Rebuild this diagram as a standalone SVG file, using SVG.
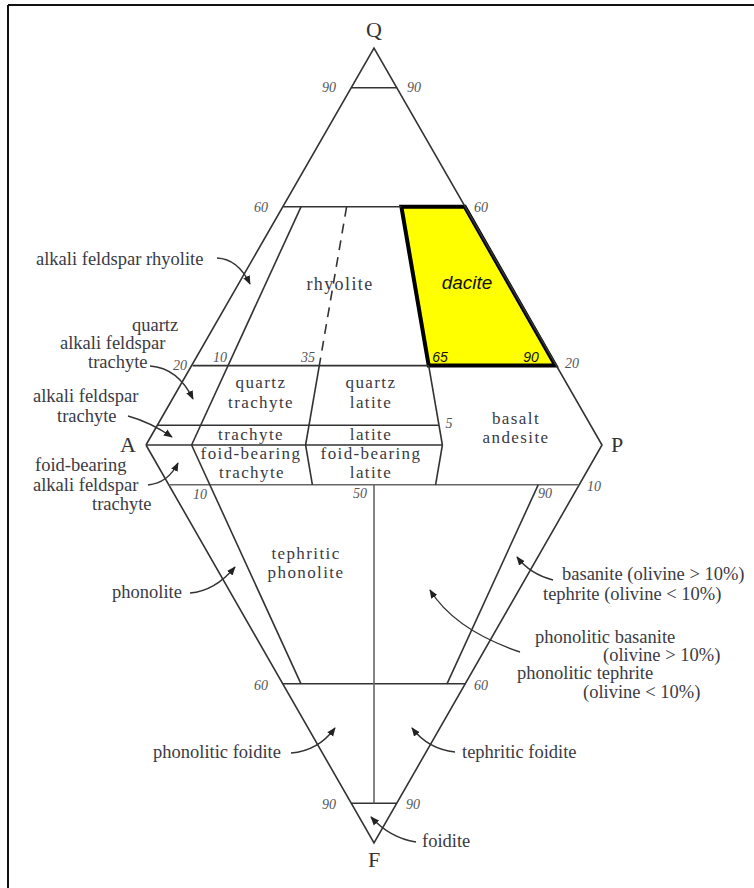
<svg xmlns="http://www.w3.org/2000/svg" width="754" height="888" viewBox="0 0 754 888">
<defs>
<style>
.lbl{font-family:"Liberation Serif","Times New Roman",serif;font-size:18.5px;fill:#3a3a44}
.in{font-size:17px;letter-spacing:1.4px;text-anchor:middle}
.num{font-family:"Liberation Serif","Times New Roman",serif;font-style:italic;font-size:14px;fill:#555;text-anchor:middle}
.sn{font-family:"Liberation Sans",Arial,sans-serif;font-style:italic;fill:#111;text-anchor:middle}
.vx{font-family:"Liberation Serif","Times New Roman",serif;font-size:22px;fill:#333;text-anchor:middle}
.ln{stroke:#333;stroke-width:1.6;fill:none}
.lg{stroke:#666;stroke-width:1.6;fill:none}
.arr{stroke:#333;stroke-width:1.4;fill:none;marker-end:url(#ah)}
</style>
<marker id="ah" viewBox="0 0 10 10" refX="9" refY="5" markerWidth="9" markerHeight="9" markerUnits="userSpaceOnUse" orient="auto">
<path d="M0,1 L10,5 L0,9 z" fill="#222"/>
</marker>
</defs>
<rect width="754" height="888" fill="#fff"/>
<g id="frame">
<line x1="8" y1="5" x2="8" y2="888" stroke="#111" stroke-width="2"/>
<line x1="8" y1="5" x2="754" y2="5" stroke="#111" stroke-width="2"/>
</g>
<g id="dacite-field">
<polygon points="401.4,206.8 464.8,206.8 555.4,365.6 428.7,365.6" fill="#ffff00" stroke="#000" stroke-width="4" stroke-linejoin="miter"/>
</g>
<g id="connectors">
<polyline class="ln" points="146,445 374,48 602,445 374,843 146,445"/>
<line class="ln" x1="351.2" y1="87.7" x2="396.8" y2="87.7"/>
<line class="ln" x1="283.2" y1="206.8" x2="401.4" y2="206.8"/>
<line class="ln" x1="192.6" y1="365.6" x2="428.7" y2="365.6"/>
<line class="ln" x1="157.4" y1="425.2" x2="439" y2="425.2"/>
<line class="ln" x1="146" y1="445" x2="442.4" y2="445"/>
<line class="lg" x1="168.8" y1="484.8" x2="579.2" y2="484.8"/>
<line class="ln" x1="282.8" y1="683.8" x2="465.2" y2="683.8"/>
<line class="ln" x1="351.2" y1="803.2" x2="396.8" y2="803.2"/>
<line class="ln" x1="301" y1="206.8" x2="191.6" y2="445"/>
<line class="ln" x1="346.6" y1="206.8" x2="319.3" y2="365.6" stroke-dasharray="10,7"/>
<line class="ln" x1="319.3" y1="365.6" x2="305.6" y2="445"/>
<line class="ln" x1="428.7" y1="365.6" x2="442.4" y2="445" stroke-width="1.2"/>
<line class="ln" x1="191.6" y1="445" x2="301" y2="683.8"/>
<line class="ln" x1="305.6" y1="445" x2="312.4" y2="484.8"/>
<line class="ln" x1="442.4" y1="445" x2="435.6" y2="484.8"/>
<line class="ln" x1="538.2" y1="484.8" x2="447" y2="683.8"/>
<line class="lg" x1="374" y1="484.8" x2="374" y2="803.2"/>
<path class="arr" d="M217,258 Q238,259 250,284"/>
<path class="arr" d="M150,366 Q178,368 193,399"/>
<path class="arr" d="M128,416 Q150,422 172,437"/>
<path class="arr" d="M148,485 Q168,483 178,463"/>
<path class="arr" d="M190,593 Q215,591 235,567"/>
<path class="arr" d="M553,580 Q530,574 517,557"/>
<path class="arr" d="M520,652 Q455,630 430,590"/>
<path class="arr" d="M291,753 Q318,751 335,728"/>
<path class="arr" d="M455,752 Q428,749 412,728"/>
<path class="arr" d="M416,842 Q390,838 371,817"/>
</g>
<g id="vertices">
<text class="vx" x="374" y="37">Q</text>
<text class="vx" x="128" y="452">A</text>
<text class="vx" x="617" y="452">P</text>
<text class="vx" x="374" y="867">F</text>
</g>
<g id="scale-numbers">
<text class="num" x="329" y="92">90</text>
<text class="num" x="414" y="92">90</text>
<text class="num" x="261" y="212">60</text>
<text class="num" x="481" y="212">60</text>
<text class="num" x="180" y="370">20</text>
<text class="num" x="220" y="362">10</text>
<text class="num" x="308" y="362">35</text>
<text class="sn" x="440" y="362" font-size="14">65</text>
<text class="sn" x="531" y="362" font-size="14">90</text>
<text class="num" x="572" y="368">20</text>
<text class="num" x="449" y="428">5</text>
<text class="num" x="200" y="499">10</text>
<text class="num" x="360" y="498">50</text>
<text class="num" x="545" y="498">90</text>
<text class="num" x="594" y="491">10</text>
<text class="num" x="261" y="690">60</text>
<text class="num" x="481" y="690">60</text>
<text class="num" x="329" y="809">90</text>
<text class="num" x="413" y="809">90</text>
</g>
<g id="rhyolite"><text class="lbl in" x="340" y="290" style="font-size:18px">rhyolite</text></g>
<g id="dacite"><text class="sn" x="467" y="289" font-size="19">dacite</text></g>
<g id="alkali-feldspar-rhyolite"><text class="lbl" x="36" y="265">alkali feldspar rhyolite</text></g>
<g id="quartz-alkali-feldspar-trachyte">
<text class="lbl" x="132" y="331">quartz</text>
<text class="lbl" x="60" y="349">alkali feldspar</text>
<text class="lbl" x="88" y="368">trachyte</text>
</g>
<g id="alkali-feldspar-trachyte">
<text class="lbl" x="33" y="402">alkali feldspar</text>
<text class="lbl" x="57" y="422">trachyte</text>
</g>
<g id="foid-bearing-alkali-feldspar-trachyte">
<text class="lbl" x="35" y="471">foid-bearing</text>
<text class="lbl" x="33" y="491">alkali feldspar</text>
<text class="lbl" x="92" y="510">trachyte</text>
</g>
<g id="quartz-trachyte">
<text class="lbl in" x="261" y="388">quartz</text>
<text class="lbl in" x="261" y="408">trachyte</text>
</g>
<g id="quartz-latite">
<text class="lbl in" x="371" y="388">quartz</text>
<text class="lbl in" x="371" y="408">latite</text>
</g>
<g id="trachyte"><text class="lbl in" x="251" y="440">trachyte</text></g>
<g id="latite"><text class="lbl in" x="371" y="440">latite</text></g>
<g id="foid-bearing-trachyte">
<text class="lbl in" x="251" y="459">foid-bearing</text>
<text class="lbl in" x="252" y="478">trachyte</text>
</g>
<g id="foid-bearing-latite">
<text class="lbl in" x="371" y="459">foid-bearing</text>
<text class="lbl in" x="371" y="478">latite</text>
</g>
<g id="basalt-andesite">
<text class="lbl in" x="516" y="424">basalt</text>
<text class="lbl in" x="516" y="443">andesite</text>
</g>
<g id="tephritic-phonolite">
<text class="lbl in" x="306" y="559">tephritic</text>
<text class="lbl in" x="306" y="578">phonolite</text>
</g>
<g id="phonolite"><text class="lbl" x="112" y="598">phonolite</text></g>
<g id="basanite-tephrite">
<text class="lbl" x="562" y="580">basanite (olivine &gt; 10%)</text>
<text class="lbl" x="543" y="600">tephrite (olivine &lt; 10%)</text>
</g>
<g id="phonolitic-basanite-tephrite">
<text class="lbl" x="535" y="643">phonolitic basanite</text>
<text class="lbl" x="603" y="661">(olivine &gt; 10%)</text>
<text class="lbl" x="517" y="679">phonolitic tephrite</text>
<text class="lbl" x="583" y="698">(olivine &lt; 10%)</text>
</g>
<g id="phonolitic-foidite"><text class="lbl" x="153" y="758">phonolitic foidite</text></g>
<g id="tephritic-foidite"><text class="lbl" x="462" y="758">tephritic foidite</text></g>
<g id="foidite"><text class="lbl" x="422" y="847">foidite</text></g>
</svg>
